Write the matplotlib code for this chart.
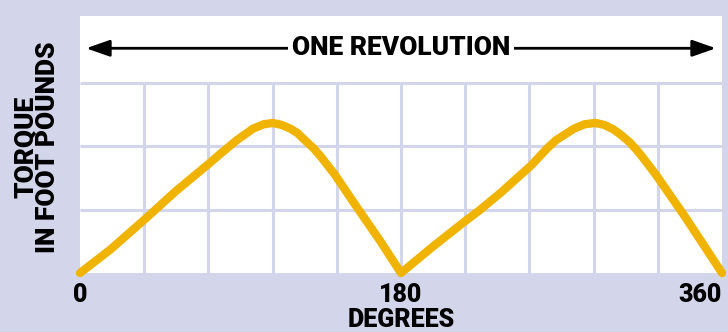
import matplotlib.pyplot as plt

# torque curve (degrees, torque in grid units)
degrees = [0, 17, 36, 54, 72, 79, 88, 97, 103, 108, 113, 118, 122, 126, 131, 135, 143, 155, 168, 180,
           198, 216, 224, 236, 253, 262, 267, 277, 283, 289, 294, 299, 303, 308, 312, 316, 323, 339, 350, 360]
torque = [0, 0.37, 0.84, 1.30, 1.72, 1.89, 2.10, 2.28, 2.35, 2.37, 2.34, 2.28, 2.21, 2.10, 1.97, 1.84, 1.55, 1.05, 0.52, 0,
          0.42, 0.82, 0.99, 1.27, 1.70, 1.97, 2.10, 2.28, 2.35, 2.37, 2.34, 2.27, 2.19, 2.07, 1.95, 1.81, 1.55, 0.90, 0.43, 0]

x_ticks = [0, 180, 360]
x_tick_labels = ['0', '180', '360']
v_grid = [36, 72, 108, 144, 180, 216, 252, 288, 324]
h_grid = [1, 2, 3]

bg = '#d3d5ea'
grid_col = '#d3d6eb'
curve_col = '#f0b400'
font = ['Roboto', 'DejaVu Sans']

fig = plt.figure(figsize=(7.28, 3.32), dpi=100, facecolor=bg)
ax = fig.add_axes([80 / 728, 59 / 332, 642 / 728, 257 / 332])
ax.set_facecolor('white')
ax.set_xlim(0, 360)
ax.set_ylim(0, 4.06)
for s in ax.spines.values():
    s.set_visible(False)

# grid only in the lower part of the panel
ax.vlines(v_grid, 0, 3, color=grid_col, lw=2.2, zorder=1)
ax.hlines(h_grid, 0, 360, color=grid_col, lw=2.2, zorder=1)

ax.plot(degrees, torque, color=curve_col, lw=6, solid_capstyle='round',
        solid_joinstyle='round', clip_on=False, zorder=3)

# one revolution arrow
ax.annotate('', xy=(3.4, 3.55), xytext=(356.6, 3.55),
            arrowprops=dict(arrowstyle='<|-|>,head_length=0.4,head_width=0.14',
                            mutation_scale=36, lw=2, color='black',
                            shrinkA=0, shrinkB=0))
ax.text(180, 3.55, 'ONE REVOLUTION', ha='center', va='center', fontsize=19,
        fontweight='heavy', family=font, zorder=4,
        bbox=dict(facecolor='white', edgecolor='none', pad=2.5))

ax.set_yticks([])
ax.set_xticks(x_ticks, x_tick_labels)
ax.tick_params(axis='x', length=0, pad=7)
for lbl in ax.get_xticklabels():
    lbl.set_fontsize(18)
    lbl.set_fontweight('heavy')
    lbl.set_family(font)
ax.get_xticklabels()[-1].set_ha('right')

fig.text(401 / 728, 0.0, 'DEGREES', ha='center', va='bottom', fontsize=18,
         fontweight='heavy', family=font)
fig.text(37 / 728, (332 - 147) / 332, 'TORQUE\nIN FOOT POUNDS', rotation=90,
         ha='center', va='center', multialignment='center', fontsize=19,
         fontweight='heavy', family=font, linespacing=0.9)

fig.savefig('out.png', dpi=100, facecolor=bg)
